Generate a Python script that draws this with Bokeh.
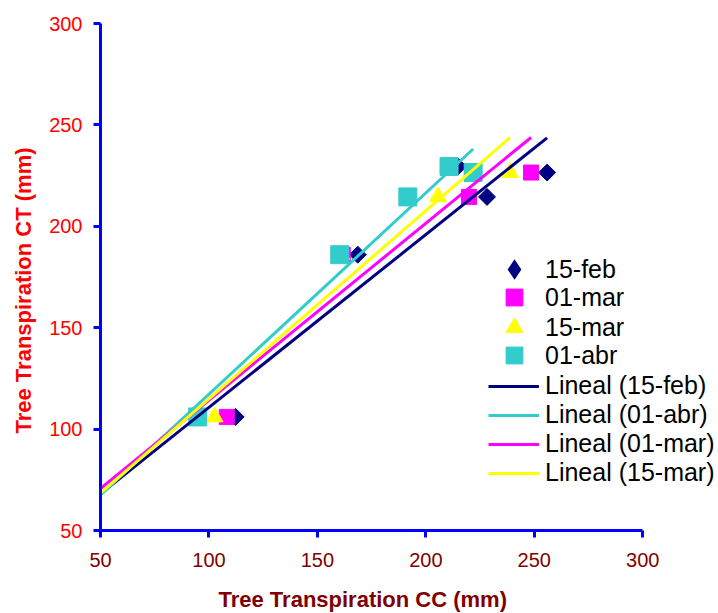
import numpy as np
from bokeh.plotting import figure
from bokeh.models import Legend, LegendItem, Range1d, FixedTicker, Title
from bokeh.embed import file_html
from bokeh.resources import INLINE

# ---- data ----
dates = ["15-feb", "01-mar", "15-mar", "01-abr"]
ct = [106, 186, 229.5, 214.5, 226.5]            # Tree Transpiration CT (mm)
cc_15feb = [112.3, 168.6, 214.8, 228.2, 255.9]  # Tree Transpiration CC (mm)
cc_01mar = [108.2, 161.7, 210.2, 219.9, 248.5]
cc_15mar = [102.6, 161.0, 210.0, 205.6, 238.8]
cc_01abr = [94.8, 160.3, 210.7, 191.7, 221.8]
axis_ticks = [50, 100, 150, 200, 250, 300]
trend_order = ["15-feb", "01-abr", "01-mar", "15-mar"]

cc = {"15-feb": cc_15feb, "01-mar": cc_01mar, "15-mar": cc_15mar, "01-abr": cc_01abr}
style = {
    "15-feb": dict(color="#000080", marker="square", size=12, angle=np.pi / 4),
    "01-mar": dict(color="#FF00FF", marker="square", size=15, angle=0),
    "15-mar": dict(color="#FFFF00", marker="triangle", size=17, angle=0),
    "01-abr": dict(color="#33CCCC", marker="square", size=18, angle=0),
}

X0, X1, Y0, Y1 = 50, 300, 50, 300
X_VIEW_END = 334  # extra room on the right of the frame for the legend

p = figure(width=718, height=613, x_range=Range1d(X0, X_VIEW_END), y_range=Range1d(Y0, Y1),
           output_backend="svg", toolbar_location=None,
           min_border_left=100, min_border_right=2, min_border_top=23, min_border_bottom=83)
p.outline_line_color = None
p.grid.visible = False
p.background_fill_color = "white"

for ax in (p.xaxis[0], p.yaxis[0]):
    ax.ticker = FixedTicker(ticks=axis_ticks)
    ax.axis_line_color = "#0000FF"
    ax.axis_line_width = 3
    ax.major_tick_line_color = "#0000FF"
    ax.major_tick_line_width = 3
    ax.major_tick_in = 0
    ax.major_tick_out = 7
    ax.minor_tick_line_color = None
    ax.major_label_text_font = "Liberation Sans"
    ax.major_label_text_font_size = "20px"

p.xaxis.bounds = (X0, X1)
p.xaxis.major_label_text_color = "#800000"
p.xaxis.major_label_standoff = 15
p.yaxis.major_label_text_color = "#FF0000"
p.yaxis.major_label_standoff = 11

xt = Title(text="Tree Transpiration CC (mm)", align="left", offset=118, standoff=0,
           padding=dict(left=0, right=0, top=15, bottom=0),
           text_font="Liberation Sans", text_font_style="bold", text_font_size="22px",
           text_color="#800000")
yt = Title(text="Tree Transpiration CT (mm)", align="left", offset=97, standoff=0,
           padding=dict(left=0, right=0, top=0, bottom=11),
           text_font="Liberation Sans", text_font_style="bold", text_font_size="22px",
           text_color="#FF0000")
p.add_layout(xt, "below")
p.add_layout(yt, "left")

scat = {}
for d in dates:
    s = style[d]
    scat[d] = p.scatter(cc[d], ct, marker=s["marker"], size=s["size"], angle=s["angle"],
                        fill_color=s["color"], line_color=s["color"], line_width=1)

# legend-only key for the diamond series (legend swatches ignore the marker angle);
# its single NaN point draws nothing in the plot
feb_key = p.scatter([np.nan], [np.nan], marker="diamond", fill_color=style["15-feb"]["color"],
                    line_color=style["15-feb"]["color"], line_width=3.5, line_join="miter")

lines = {}
for d in trend_order:
    slope, intercept = np.polyfit(cc[d], ct, 1)
    xs = np.array([X0, max(cc[d])])
    lines[d] = p.line(xs, slope * xs + intercept, line_color=style[d]["color"], line_width=3)

common = dict(padding=0, margin=0, border_line_color=None, background_fill_alpha=0,
              label_text_font="Liberation Sans", label_text_font_size="25px",
              label_text_color="black", spacing=0)

# one small legend per marker entry (keeps marker sizes and row pitch like the reference)
marker_leg = [("15-feb", feb_key, 36, (396, 243), 13),
              ("01-mar", scat["01-mar"], 42, (393, 212), 10),
              ("15-mar", scat["15-mar"], 42, (393, 182), 10),
              ("01-abr", scat["01-abr"], 42, (393, 154), 10)]
for d, r, g, loc, st in marker_leg:
    lg = Legend(items=[LegendItem(label=d, renderers=[r])], location=loc,
                glyph_width=g, glyph_height=g, label_height=g, label_standoff=st, **common)
    p.add_layout(lg, "center")

leg_lines = Legend(items=[LegendItem(label=f"Lineal ({d})", renderers=[lines[d]]) for d in trend_order],
                   location=(388, 43), glyph_width=51, glyph_height=28, label_height=28,
                   label_standoff=6, **common)
p.add_layout(leg_lines, "center")

open("out.html", "w").write(file_html(p, INLINE))
